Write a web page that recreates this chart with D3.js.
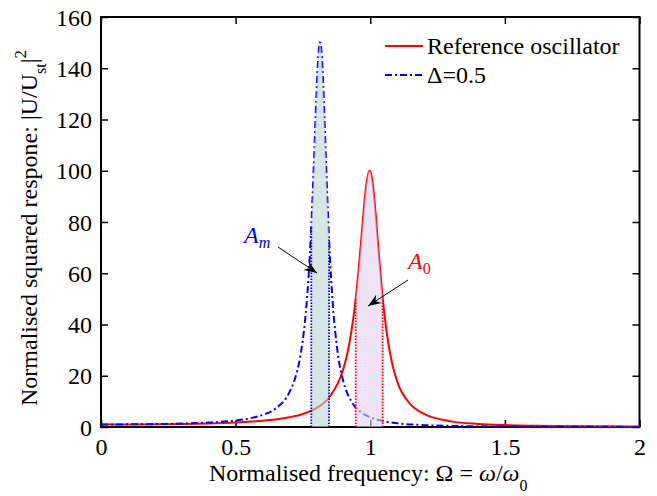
<!DOCTYPE html>
<html>
<head>
<meta charset="utf-8">
<script src="https://cdn.jsdelivr.net/npm/d3@7"></script>
<style>
  body { margin: 0; background: #fff; }
  svg text { font-family: "Liberation Serif", "Times New Roman", serif; }
</style>
</head>
<body>
<div class="chart"></div>
<script>
// reference oscillator (red)
var omegaRef = [0, 0.1, 0.2, 0.3, 0.4, 0.5, 0.6, 0.7, 0.75, 0.8, 0.85, 0.9, 0.92, 0.94,
  0.946, 0.955, 0.965, 0.975, 0.985, 0.9975, 1.005, 1.015, 1.025, 1.035, 1.046, 1.06,
  1.08, 1.1, 1.15, 1.2, 1.3, 1.4, 1.5, 1.6, 1.8, 2.0];
var respRef = [1.0, 1.02, 1.09, 1.21, 1.41, 1.77, 2.42, 3.77, 5.08, 7.35, 11.9, 22.6, 31.2, 44.7,
  50.0, 59.3, 71.2, 83.7, 94.4, 100.1, 98.0, 89.2, 76.5, 63.4, 50.5, 37.7,
  25.4, 17.8, 8.8, 5.1, 2.2, 1.2, 0.75, 0.5, 0.25, 0.15];

// Delta = 0.5 (blue dash-dot)
var omegaMod = [0, 0.1, 0.2, 0.3, 0.4, 0.5, 0.55, 0.6, 0.65, 0.7, 0.72, 0.74, 0.76, 0.77,
  0.781, 0.79, 0.80, 0.805, 0.8135, 0.82, 0.825, 0.83, 0.835, 0.84, 0.847, 0.855,
  0.86, 0.88, 0.9, 0.93, 0.96, 1.0, 1.05, 1.1, 1.2, 1.3, 1.4, 1.5, 1.6, 1.8, 2.0];
var respMod = [1.0, 1.03, 1.13, 1.34, 1.73, 2.55, 3.34, 4.69, 7.31, 13.6, 18.7, 27.5, 43.9, 57.2,
  78.2, 101.0, 129.1, 141.0, 150.1, 145.1, 134.5, 120.7, 105.7, 91.3, 73.5, 57.3,
  49.3, 28.3, 17.8, 10.0, 6.27, 3.77, 2.24, 1.45, 0.73, 0.42, 0.26, 0.18, 0.12, 0.07, 0.04];

// half-power bands (shaded areas)
var bandRef = [0.946, 1.046];
var bandMod = [0.781, 0.847];

var xTicks = [0, 0.5, 1, 1.5, 2];
var xTickLabels = ["0", "0.5", "1", "1.5", "2"];
var yTicks = [0, 20, 40, 60, 80, 100, 120, 140, 160];

var legendLabels = ["Reference oscillator", "\u0394=0.5"];

var FONT = "'Liberation Serif', 'Times New Roman', serif";
var svgWidth = 657, svgHeight = 496;
var margin = {top: 17, right: 17.5, bottom: 69, left: 101};
var width = svgWidth - margin.left - margin.right,
    height = svgHeight - margin.top - margin.bottom;

var svg = d3.select(".chart").append("svg")
    .attr("width", svgWidth)
    .attr("height", svgHeight)
    .attr("font-family", FONT);

var defs = svg.append("defs");
defs.append("marker")
    .attr("id", "arrow")
    .attr("markerUnits", "userSpaceOnUse")
    .attr("viewBox", "-14 -6 16 12")
    .attr("markerWidth", 16).attr("markerHeight", 12)
    .attr("refX", 0).attr("refY", 0)
    .attr("orient", "auto")
  .append("path")
    .attr("d", "M0,0 L-13,-5 L-9,0 L-13,5 Z")
    .attr("fill", "#000");

var g = svg.append("g")
    .attr("transform", "translate(" + margin.left + "," + margin.top + ")");

var x = d3.scaleLinear().domain([0, 2]).range([0, width]);
var y = d3.scaleLinear().domain([0, 160]).range([height, 0]);

var refData = omegaRef.map(function(o, i) { return {x: o, y: respRef[i]}; });
var modData = omegaMod.map(function(o, i) { return {x: o, y: respMod[i]}; });

// axes, ticks pointing inward on all four sides
var xAxis = d3.axisBottom(x).tickValues(xTicks)
    .tickFormat(function(d, i) { return xTickLabels[i]; })
    .tickSizeInner(-7).tickSizeOuter(0).tickPadding(11);
var yAxis = d3.axisLeft(y).tickValues(yTicks)
    .tickSizeInner(-7).tickSizeOuter(0).tickPadding(9);

var gx = g.append("g").attr("transform", "translate(0," + height + ")").call(xAxis);
var gy = g.append("g").call(yAxis);
var gxt = g.append("g").call(d3.axisTop(x).tickValues(xTicks).tickSizeInner(-7).tickSizeOuter(0).tickFormat(""));
var gyr = g.append("g").attr("transform", "translate(" + width + ",0)")
    .call(d3.axisRight(y).tickValues(yTicks).tickSizeInner(-7).tickSizeOuter(0).tickFormat(""));

[gx, gy, gxt, gyr].forEach(function(a) {
    a.attr("font-family", FONT).attr("font-size", 24);
    a.select(".domain").remove();
    a.selectAll(".tick line").attr("stroke", "#000").attr("stroke-width", 1.5);
    a.selectAll(".tick text").attr("fill", "#000");
});
gy.selectAll(".tick text").attr("dy", "0.34em");

g.append("rect")
    .attr("width", width).attr("height", height)
    .attr("fill", "none").attr("stroke", "#000").attr("stroke-width", 2);

// curves
var line = d3.line()
    .curve(d3.curveMonotoneX)
    .x(function(d) { return x(d.x); })
    .y(function(d) { return y(d.y); });

g.append("path").datum(refData)
    .attr("d", line)
    .attr("fill", "none").attr("stroke", "#ff0000").attr("stroke-width", 2);

g.append("path").datum(modData)
    .attr("d", line)
    .attr("fill", "none").attr("stroke", "#0000ff").attr("stroke-width", 2)
    .attr("stroke-dasharray", "7,3,2,3");

// shaded half-power areas
var area = d3.area()
    .curve(d3.curveMonotoneX)
    .x(function(d) { return x(d.x); })
    .y0(height)
    .y1(function(d) { return y(d.y); });

function band(data, b) {
    return data.filter(function(d) { return d.x >= b[0] - 1e-9 && d.x <= b[1] + 1e-9; });
}

var modBand = band(modData, bandMod), refBand = band(refData, bandRef);

g.append("path").datum(modBand)
    .attr("d", area)
    .attr("fill", "rgb(187,213,210)").attr("fill-opacity", 0.6);
g.append("path").datum(refBand)
    .attr("d", area)
    .attr("fill", "rgb(228,208,242)").attr("fill-opacity", 0.6);

// dotted band edges
function edges(pts, color) {
    [pts[0], pts[pts.length - 1]].forEach(function(d) {
        g.append("line")
            .attr("x1", x(d.x)).attr("x2", x(d.x))
            .attr("y1", height).attr("y2", y(d.y))
            .attr("stroke", color).attr("stroke-width", 1.8)
            .attr("stroke-dasharray", "1.5,1.5");
    });
}
edges(modBand, "#0000ff");
edges(refBand, "#ff0000");

// legend
var legend = g.append("g").attr("transform", "translate(" + (385 - margin.left) + "," + (46 - margin.top) + ")");
legend.append("line").attr("x1", 0).attr("x2", 38).attr("y1", 0).attr("y2", 0)
    .attr("stroke", "#ff0000").attr("stroke-width", 2);
legend.append("line").attr("x1", 0).attr("x2", 38).attr("y1", 29).attr("y2", 29)
    .attr("stroke", "#0000ff").attr("stroke-width", 2).attr("stroke-dasharray", "7,3,2,3");
legend.selectAll("text.lg").data(legendLabels).enter().append("text")
    .attr("class", "lg")
    .attr("x", 42).attr("y", function(d, i) { return i * 29; })
    .attr("dy", "0.34em")
    .attr("font-size", 24)
    .text(function(d) { return d; });

// annotations
function label(px, py, main, sub, color, subItalic) {
    var t = svg.append("text").attr("x", px).attr("y", py)
        .attr("fill", color).attr("font-size", 24);
    t.append("tspan").attr("font-style", "italic").text(main);
    t.append("tspan").attr("font-size", 16).attr("dy", 5)
        .attr("font-style", subItalic ? "italic" : "normal").text(sub);
}
label(244, 243, "A", "m", "#0000ff", true);
label(408, 269, "A", "0", "#ff0000", false);

svg.append("line").attr("x1", 278).attr("y1", 247).attr("x2", 317).attr("y2", 273)
    .attr("stroke", "#000").attr("stroke-width", 1).attr("marker-end", "url(#arrow)");
svg.append("line").attr("x1", 408).attr("y1", 280).attr("x2", 368).attr("y2", 306)
    .attr("stroke", "#000").attr("stroke-width", 1).attr("marker-end", "url(#arrow)");

// axis titles
var xl = svg.append("text")
    .attr("x", margin.left + width / 2 - 2).attr("y", 481)
    .attr("text-anchor", "middle").attr("font-size", 24);
xl.append("tspan").text("Normalised frequency: \u03a9 = ");
xl.append("tspan").attr("font-style", "italic").text("\u03c9");
xl.append("tspan").text("/");
xl.append("tspan").attr("font-style", "italic").text("\u03c9");
xl.append("tspan").attr("font-size", 16).attr("dy", 10).text("0");

var yl = svg.append("text")
    .attr("transform", "translate(37," + (margin.top + height / 2 + 6) + ") rotate(-90)")
    .attr("text-anchor", "middle").attr("font-size", 24);
yl.append("tspan").text("Normalised squared respone: |U/U");
yl.append("tspan").attr("font-size", 16).attr("dy", 9).text("st");
yl.append("tspan").attr("dy", -9).text("|");
yl.append("tspan").attr("font-size", 17).attr("dy", -11).text("2");
</script>
</body>
</html>
